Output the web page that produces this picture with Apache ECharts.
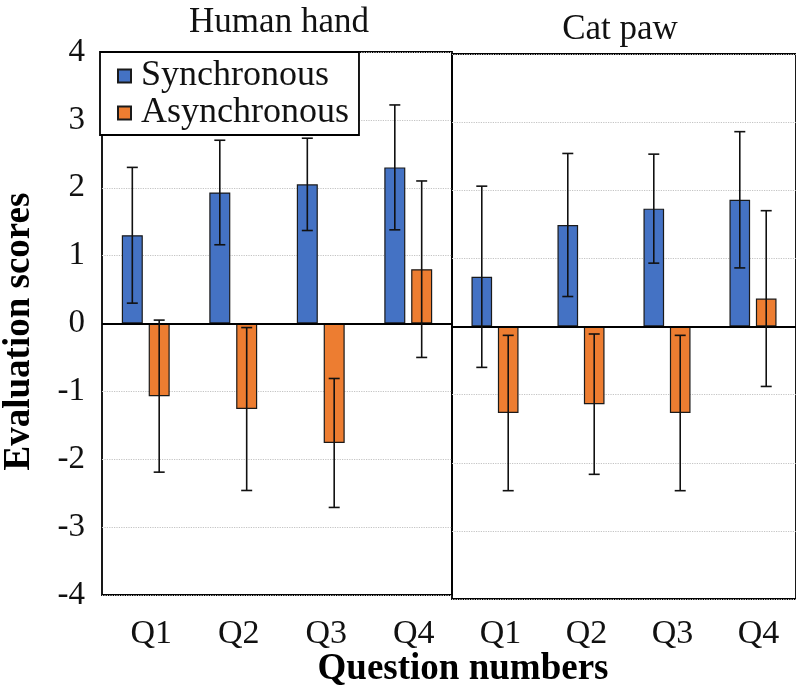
<!DOCTYPE html>
<html>
<head>
<meta charset="utf-8">
<script src="https://cdn.jsdelivr.net/npm/echarts@6/dist/echarts.min.js"></script>
<style>html,body{margin:0;padding:0;background:#fff}#c{width:796px;height:694px}</style>
</head>
<body>
<div id="c"></div>
<script>
// ---- data ----
var categories = ['Q1', 'Q2', 'Q3', 'Q4'];
var panelTitles = ['Human hand', 'Cat paw'];
var yTicks = [-4, -3, -2, -1, 0, 1, 2, 3, 4];
var handSync = [1.30, 1.93, 2.05, 2.30];
var handSyncErr = [1.00, 0.77, 0.68, 0.92];
var handAsync = [-1.07, -1.26, -1.76, 0.80];
var handAsyncErr = [1.12, 1.20, 0.95, 1.30];
var catSync = [0.73, 1.49, 1.73, 1.86];
var catSyncErr = [1.33, 1.05, 0.80, 1.00];
var catAsync = [-1.27, -1.14, -1.27, 0.41];
var catAsyncErr = [1.14, 1.03, 1.14, 1.29];

// ---- style ----
var FONT = '"Liberation Serif", "Times New Roman", serif';
var BLUE = '#4472C4', ORANGE = '#ED7D31';
var BARW = 0.24, GAP = 0.28;

function errSeries(xi, yi, means, errs, side) {
  return {
    type: 'custom', xAxisIndex: xi, yAxisIndex: yi, silent: true, z: 5,
    data: means.map(function (m, i) { return [i, m, errs[i]]; }),
    encode: { x: 0, y: 1 },
    renderItem: function (params, api) {
      var i = api.value(0), m = api.value(1), e = api.value(2);
      var band = api.size([1, 0])[0];
      var off = side * band * BARW * (1 + GAP) / 2;
      var top = api.coord([i, m + e]);
      var bot = api.coord([i, m - e]);
      var x = top[0] + off, cap = 5.5;
      var st = { stroke: '#111', lineWidth: 1.6 };
      return { type: 'group', children: [
        { type: 'line', shape: { x1: x, y1: top[1], x2: x, y2: bot[1] }, style: st },
        { type: 'line', shape: { x1: x - cap, y1: top[1], x2: x + cap, y2: top[1] }, style: st },
        { type: 'line', shape: { x1: x - cap, y1: bot[1], x2: x + cap, y2: bot[1] }, style: st }
      ]};
    }
  };
}
function barSeries(name, xi, yi, vals, color, withZero) {
  var s = {
    name: name, type: 'bar', xAxisIndex: xi, yAxisIndex: yi, data: vals,
    barWidth: (BARW * 100) + '%', barGap: (GAP * 100) + '%',
    itemStyle: { color: color, borderColor: '#1a1a1a', borderWidth: 1.2 },
    z: 3
  };
  if (withZero) {
    s.markLine = { silent: true, symbol: 'none', label: { show: false },
      lineStyle: { color: '#000', width: 1.8, type: 'solid' }, data: [{ yAxis: 0 }] };
  }
  return s;
}
function yAxisCfg(gi, showLabels) {
  return {
    type: 'value', gridIndex: gi, min: yTicks[0], max: yTicks[yTicks.length - 1], interval: 1,
    name: showLabels ? 'Evaluation scores' : '', nameLocation: 'middle', nameRotate: 90, nameGap: 64,
    nameTextStyle: { fontFamily: FONT, fontWeight: 'bold', fontSize: 37, color: '#000', padding: [0, 16, 0, 0] },
    axisLine: { show: false }, axisTick: { show: false },
    axisLabel: { show: showLabels, margin: 17, fontFamily: FONT, fontSize: 33, color: '#111' },
    splitLine: { show: true, lineStyle: { color: '#c4c4c4', type: 'dotted', width: 1.2 } }
  };
}
function xAxisCfg(gi, margin) {
  return {
    type: 'category', gridIndex: gi, data: categories,
    axisLine: { show: false }, axisTick: { show: false },
    axisLabel: { margin: margin, fontFamily: FONT, fontSize: 34, color: '#111', padding: [0, 0, 0, 11] },
    splitLine: { show: false }
  };
}

var chart = echarts.init(document.getElementById('c'), null, { renderer: 'canvas' });
chart.setOption({
  animation: false,
  backgroundColor: '#fff',
  title: [
    { text: panelTitles[0], left: 274, top: 0, textAlign: 'center',
      textStyle: { fontFamily: FONT, fontWeight: 'normal', fontSize: 35, color: '#111' } },
    { text: panelTitles[1], left: 615, top: 7, textAlign: 'center',
      textStyle: { fontFamily: FONT, fontWeight: 'normal', fontSize: 35, color: '#111' } },
    { text: 'Question numbers', left: 458, top: 646, textAlign: 'center',
      textStyle: { fontFamily: FONT, fontWeight: 'bold', fontSize: 37, color: '#000' } }
  ],
  legend: {
    data: ['Synchronous', 'Asynchronous'], orient: 'vertical', left: 100, top: 52,
    padding: [6, 10, 4, 17], itemGap: 1, itemWidth: 13, itemHeight: 13, icon: 'rect',
    backgroundColor: '#fff', borderColor: '#000', borderWidth: 1.8, z: 10,
    textStyle: { fontFamily: FONT, fontSize: 36, color: '#111', lineHeight: 36, padding: [0, 0, 0, 5] }
  },
  grid: [
    { left: 100, top: 52, width: 352, height: 543, show: true, borderColor: '#000', borderWidth: 1.8, backgroundColor: 'transparent' },
    { left: 452, top: 54, right: -2, height: 545, show: true, borderColor: '#000', borderWidth: 1.8, backgroundColor: 'transparent' }
  ],
  xAxis: [xAxisCfg(0, 22), xAxisCfg(1, 18)],
  yAxis: [yAxisCfg(0, true), yAxisCfg(1, false)],
  series: [
    barSeries('Synchronous', 0, 0, handSync, BLUE, true),
    barSeries('Asynchronous', 0, 0, handAsync, ORANGE, false),
    barSeries('Synchronous', 1, 1, catSync, BLUE, true),
    barSeries('Asynchronous', 1, 1, catAsync, ORANGE, false),
    errSeries(0, 0, handSync, handSyncErr, -1),
    errSeries(0, 0, handAsync, handAsyncErr, 1),
    errSeries(1, 1, catSync, catSyncErr, -1),
    errSeries(1, 1, catAsync, catAsyncErr, 1)
  ]
});
</script>
</body>
</html>
